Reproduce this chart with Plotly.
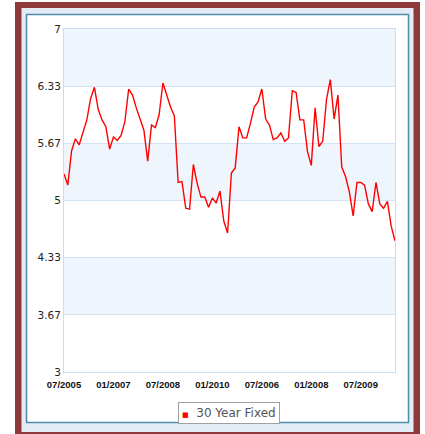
import plotly.graph_objects as go

series_name = "30 Year Fixed"
rates = [5.31, 5.18, 5.58, 5.72, 5.65, 5.80, 5.94, 6.19, 6.32, 6.06, 5.94, 5.86, 5.60, 5.74,
         5.70, 5.76, 5.92, 6.30, 6.23, 6.08, 5.96, 5.82, 5.46, 5.88, 5.85, 6.00, 6.37, 6.23,
         6.09, 5.99, 5.21, 5.22, 4.91, 4.90, 5.42, 5.20, 5.04, 5.04, 4.92, 5.03, 4.97, 5.11,
         4.76, 4.62,
         5.32, 5.38, 5.86, 5.73, 5.73, 5.90, 6.09, 6.15, 6.30, 5.95, 5.88, 5.71, 5.73, 5.79,
         5.69, 5.73, 6.28, 6.26, 5.94, 5.94, 5.57, 5.41, 6.08, 5.63, 5.69, 6.18, 6.41, 5.95,
         6.23, 5.39, 5.28, 5.10, 4.82, 5.21, 5.21, 5.18, 4.96, 4.87, 5.21, 4.96, 4.91, 4.99,
         4.70, 4.53]
x_index = list(range(len(rates)))
x_tick_positions = [0, 13, 26, 39, 52, 65, 78]
x_tick_labels = ["07/2005", "01/2007", "07/2008", "01/2010", "07/2006", "01/2008", "07/2009"]
y_tick_values = [3, 3 + 2/3, 4 + 1/3, 5, 5 + 2/3, 6 + 1/3, 7]
y_tick_labels = ["3", "3.67", "4.33", "5", "5.67", "6.33", "7"]

W, H = 425, 434
L, R, T, B = 64, 30, 29, 62
pw, ph = W - L - R, H - T - B

def px(x):
    return (x - L) / pw

def py(y):
    return (H - B - y) / ph

fig = go.Figure()
fig.add_trace(go.Scatter(x=x_index, y=rates, mode="lines", name=series_name,
                         line=dict(color="#FF0000", width=1.4), showlegend=False))

shapes = [
    dict(type="rect", xref="paper", yref="paper", x0=px(15), x1=px(420), y0=py(440), y1=py(2),
         fillcolor="#8F3A3A", line=dict(width=0), layer="below"),
    dict(type="rect", xref="paper", yref="paper", x0=px(21.5), x1=px(413.5), y0=py(432), y1=py(8),
         fillcolor="#E4ECF6", line=dict(width=0), layer="below"),
    dict(type="rect", xref="paper", yref="paper", x0=px(26.5), x1=px(408.5), y0=py(422.5), y1=py(14.5),
         fillcolor="#FFFFFF", line=dict(color="#4F8CA8", width=1.5), layer="below"),
]
for i in range(0, 6, 2):
    shapes.append(dict(type="rect", xref="paper", yref="y", x0=0, x1=1,
                       y0=y_tick_values[5 - i], y1=y_tick_values[6 - i],
                       fillcolor="#EEF5FD", line=dict(width=0), layer="below"))
fig.update_layout(shapes=shapes)

fig.add_annotation(
    xref="paper", yref="paper", x=px(228.5), y=py(401.5), xanchor="center", yanchor="top",
    text="<span style='color:#FF0000;font-size:7px'>■</span>  " + series_name,
    showarrow=False, bgcolor="#FFFFFF", bordercolor="#A0A0A0", borderwidth=1, borderpad=3,
    font=dict(family="DejaVu Sans", size=12, color="#555555"),
)

fig.update_layout(
    width=W, height=H,
    margin=dict(l=L, r=R, t=T, b=B, pad=0),
    paper_bgcolor="#FFFFFF",
    plot_bgcolor="rgba(0,0,0,0)",
    showlegend=False,
    xaxis=dict(range=[0, len(rates) - 1], tickmode="array", tickvals=x_tick_positions,
               ticktext=x_tick_labels, showgrid=False, zeroline=False,
               showline=True, mirror=True, linecolor="#CADCF3", linewidth=1,
               tickfont=dict(family="Liberation Sans", size=9.5, color="#111111", weight="bold"),
               ticks="", ticklabelstandoff=4),
    yaxis=dict(range=[3, 7], tickmode="array", tickvals=y_tick_values, ticktext=y_tick_labels,
               showgrid=True, gridcolor="#D3E2F5", gridwidth=1, zeroline=False,
               showline=True, mirror=True, linecolor="#CADCF3", linewidth=1,
               tickfont=dict(family="DejaVu Sans", size=10.5, color="#222222"),
               ticks=""),
)

fig.write_html("out.html", config={"displayModeBar": False},
               post_script="document.body.style.margin='0';document.body.style.overflow='hidden';")
